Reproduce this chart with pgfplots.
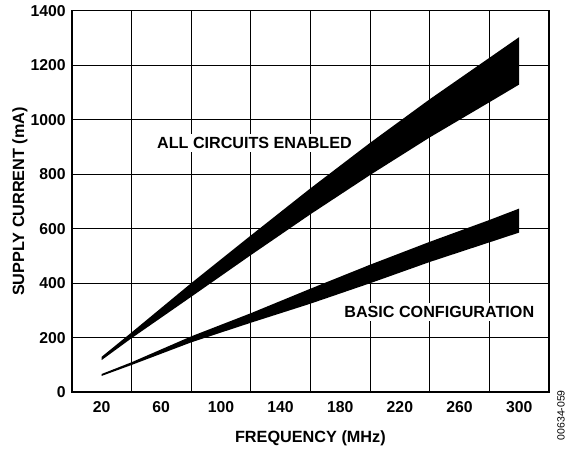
\documentclass[border=0pt]{standalone}
\usepackage{fontspec}
\setmainfont{Liberation Sans}
\usepackage{pgfplots}
\pgfplotsset{compat=1.18}
\begin{document}
\begin{tikzpicture}
\begin{axis}[
  scale only axis,
  width=479bp, height=383bp,
  xmin=0, xmax=320, ymin=0, ymax=1400,
  xtick={20,60,...,300},
  minor xtick={40,80,...,280},
  ytick={0,200,...,1400},
  xminorgrids=true, ymajorgrids=true, xmajorgrids=false,
  major tick length=0pt, minor tick length=0pt,
  grid style={black, line width=0.9bp},
  minor grid style={black, line width=0.9bp},
  axis line style={black, line width=1.6bp},
  /pgf/number format/assume math mode=true,
  /pgf/number format/1000 sep={},
  tick label style={font=\fontsize{15.8bp}{18bp}\selectfont\bfseries},
  xticklabel style={anchor=center, yshift=-15bp},
  yticklabel style={anchor=east, inner sep=0pt, xshift=-6bp},
  xlabel={FREQUENCY (MHz)},
  ylabel={SUPPLY CURRENT (mA)},
  label style={font=\fontsize{16.3bp}{18bp}\selectfont\bfseries},
  xlabel style={at={(axis description cs:0.5,0)}, anchor=center, yshift=-46bp},
  ylabel style={at={(axis description cs:-0.1086,0.5)}, anchor=center},
  clip=false,
]
% ALL CIRCUITS ENABLED band (top edge then bottom edge reversed)
\addplot[fill=black, draw=none] coordinates {
  (20,130) (40,219) (80,400) (120,575) (160,748) (200,915) (240,1075) (280,1227) (300,1303)
  (300,1129) (280,1064) (240,935) (200,797) (160,653) (120,503) (80,350) (40,198) (20,118)
} -- cycle;
% BASIC CONFIGURATION band
\addplot[fill=black, draw=none] coordinates {
  (20,67) (40,110) (80,205) (120,290) (160,380) (200,468) (240,552) (280,632) (300,674)
  (300,586) (280,550) (240,478) (200,400) (160,325) (120,255) (80,183) (40,100) (20,60)
} -- cycle;
\node[fill=white, inner sep=3bp, font=\fontsize{16.2bp}{18bp}\selectfont\bfseries] at (axis cs:122.5,915) {ALL CIRCUITS ENABLED};
\node[fill=white, inner sep=3bp, font=\fontsize{16.2bp}{18bp}\selectfont\bfseries] at (axis cs:246.4,294) {BASIC CONFIGURATION};
\end{axis}
\node[rotate=90, font=\fontsize{10.5bp}{12bp}\selectfont, anchor=center] at ([xshift=12bp,yshift=-23bp]current axis.south east) {00634-059};
\path (current axis.south west) ++(-72bp,-49.3bp) rectangle ++(568bp,443bp);
\end{tikzpicture}
\end{document}
